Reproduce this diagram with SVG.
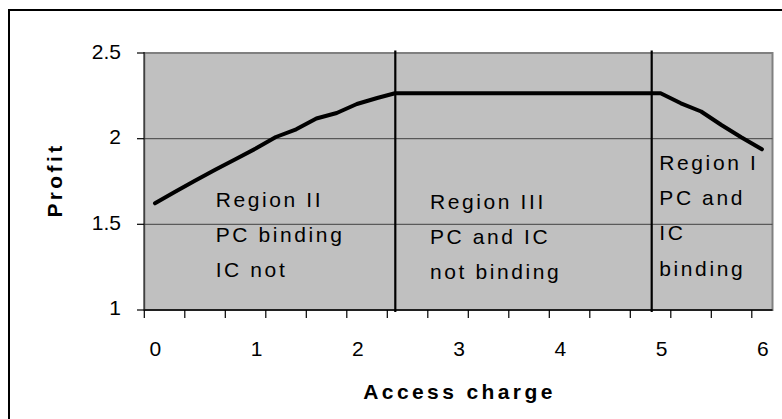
<svg xmlns="http://www.w3.org/2000/svg" width="782" height="419" viewBox="0 0 782 419">
  <style>
    text { font-family: "Liberation Sans", Arial, sans-serif; fill: #000; }
    .tick { font-size: 21px; }
    .lbl { font-size: 21px; letter-spacing: 2.6px; }
    .axt { font-size: 21px; font-weight: bold; letter-spacing: 3.4px; }
    .grid { stroke: #404040; stroke-width: 1; }
    .tk { stroke: #000; stroke-width: 1.2; }
    .bound { stroke: #000; stroke-width: 2.2; }
    .curve { fill: none; stroke: #000; stroke-width: 4; stroke-linejoin: round; stroke-linecap: round; }
  </style>

  <!-- chart frame -->
  <path d="M9 419 V10 H782" fill="none" stroke="#000" stroke-width="2"/>

  <!-- plot area -->
  <g id="plot-area">
    <rect x="144.3" y="53" width="628.2" height="257" fill="#C0C0C0" stroke="#808080" stroke-width="2"/>
    <line class="grid" x1="144.3" y1="138.7" x2="772.5" y2="138.7"/>
    <line class="grid" x1="144.3" y1="224.3" x2="772.5" y2="224.3"/>
  </g>

  <!-- axes -->
  <g id="y-axis">
    <line x1="144.3" y1="52" x2="144.3" y2="310" stroke="#404040" stroke-width="1.5"/>
    <line class="tk" x1="137" y1="53" x2="144.3" y2="53"/>
    <line class="tk" x1="137" y1="138.7" x2="144.3" y2="138.7"/>
    <line class="tk" x1="137" y1="224.3" x2="144.3" y2="224.3"/>
    <line class="tk" x1="137" y1="310" x2="144.3" y2="310"/>
    <text class="tick" x="121" y="59" text-anchor="end">2.5</text>
    <text class="tick" x="121" y="144" text-anchor="end">2</text>
    <text class="tick" x="121" y="230" text-anchor="end">1.5</text>
    <text class="tick" x="121" y="315" text-anchor="end">1</text>
    <text class="axt" transform="translate(61.5,180) rotate(-90)" text-anchor="middle">Profit</text>
  </g>

  <g id="x-axis">
    <line x1="144.3" y1="310" x2="772.5" y2="310" stroke="#000" stroke-width="1.5"/>
    <path class="tk" d="M144.3 310v8 M184.8 310v8 M225.3 310v8 M265.8 310v8 M306.3 310v8 M346.8 310v8 M387.3 310v8 M427.8 310v8 M468.3 310v8 M508.8 310v8 M549.3 310v8 M589.8 310v8 M630.3 310v8 M670.8 310v8 M711.3 310v8 M751.8 310v8"/>
    <text class="tick" x="155.4" y="356" text-anchor="middle">0</text>
    <text class="tick" x="256.7" y="356" text-anchor="middle">1</text>
    <text class="tick" x="357.9" y="356" text-anchor="middle">2</text>
    <text class="tick" x="459.2" y="356" text-anchor="middle">3</text>
    <text class="tick" x="560.4" y="356" text-anchor="middle">4</text>
    <text class="tick" x="661.7" y="356" text-anchor="middle">5</text>
    <text class="tick" x="762.9" y="356" text-anchor="middle">6</text>
    <text class="axt" x="459.5" y="399" text-anchor="middle">Access charge</text>
  </g>

  <!-- region boundaries -->
  <g id="boundaries">
    <line class="bound" x1="395.3" y1="50.5" x2="395.3" y2="312"/>
    <line class="bound" x1="651.7" y1="50.5" x2="651.7" y2="312"/>
  </g>

  <!-- profit curve -->
  <g id="profit-curve">
    <polyline class="curve" points="155,203.3 174.7,192 194.9,180.7 215.2,169.7 235.4,159.2 255.7,148.6 275.9,137 296.2,129.3 316.4,118.5 336.7,113 356.9,104 377.2,98 395,93.3 660.6,93.3 680.9,103.3 701.1,111.5 721.4,125 741.6,137.5 761.9,149.3"/>
  </g>

  <!-- region labels -->
  <g id="region-2">
    <text class="lbl" x="215.7" y="206.7">Region II</text>
    <text class="lbl" x="215.7" y="241.7">PC binding</text>
    <text class="lbl" x="215.7" y="276.7">IC not</text>
  </g>
  <g id="region-3">
    <text class="lbl" x="430" y="209">Region III</text>
    <text class="lbl" x="430" y="244">PC and IC</text>
    <text class="lbl" x="430" y="279">not binding</text>
  </g>
  <g id="region-1">
    <text class="lbl" x="659.3" y="170">Region I</text>
    <text class="lbl" x="659.3" y="205">PC and</text>
    <text class="lbl" x="659.3" y="240">IC</text>
    <text class="lbl" x="659.3" y="276">binding</text>
  </g>
</svg>
